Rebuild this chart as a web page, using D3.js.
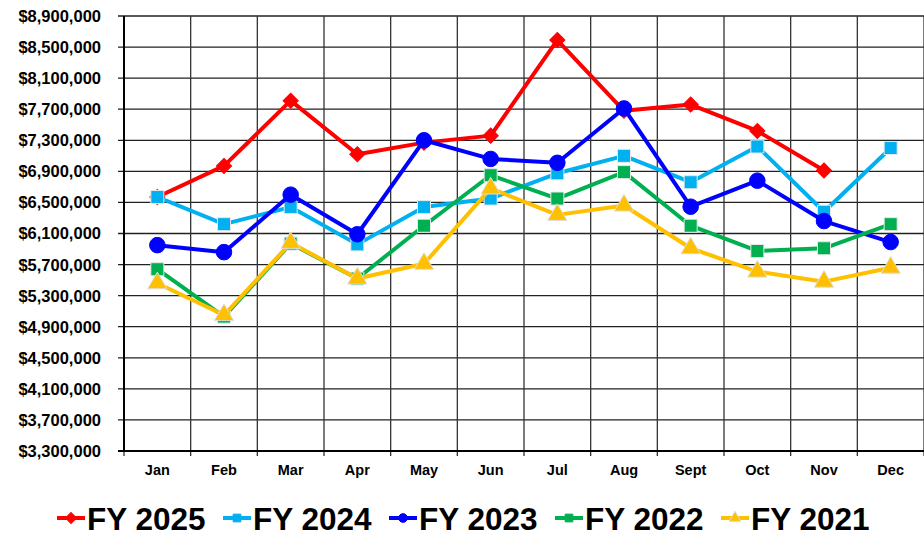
<!DOCTYPE html>
<html>
<head>
<meta charset="utf-8">
<script src="https://cdn.jsdelivr.net/npm/d3@7"></script>
<style>
  body { margin: 0; background: #fff; }
  svg { display: block; font-family: Arial, "Liberation Sans", sans-serif; }
</style>
</head>
<body>
<div id="container"></div>
<script>
// Monthly values
const months = ['Jan', 'Feb', 'Mar', 'Apr', 'May', 'Jun', 'Jul', 'Aug', 'Sept', 'Oct', 'Nov', 'Dec'];
const fy2025 = [6570000, 6970000, 7810000, 7120000, 7270000, 7360000, 8590000, 7680000, 7760000, 7420000, 6910000, null];
const fy2024 = [6570000, 6220000, 6440000, 5960000, 6440000, 6550000, 6875000, 7100000, 6760000, 7220000, 6380000, 7200000];
const fy2023 = [5950000, 5860000, 6600000, 6090000, 7300000, 7060000, 7010000, 7710000, 6445000, 6780000, 6260000, 5990000];
const fy2022 = [5640000, 5030000, 5970000, 5520000, 6200000, 6850000, 6550000, 6890000, 6200000, 5875000, 5910000, 6220000];
const fy2021 = [5460000, 5050000, 5980000, 5520000, 5710000, 6680000, 6340000, 6460000, 5910000, 5610000, 5480000, 5660000];
const yTicks = d3.range(3300000, 8900001, 400000);

const seriesNames = ['FY 2025', 'FY 2024', 'FY 2023', 'FY 2022', 'FY 2021'];
const seriesValues = [fy2025, fy2024, fy2023, fy2022, fy2021];
const colors = ['#ff0000', '#00b0f0', '#0000ff', '#00b050', '#ffc000'];
const symbols = [d3.symbolSquare, d3.symbolSquare, d3.symbolCircle, d3.symbolSquare, d3.symbolTriangle];
const symSize = [115, 170, 190, 170, 160];
const symRot = [45, 0, 0, 0, 0];

const width = 924;
const height = 537;
const plot = { left: 124, right: 924, top: 16, bottom: 451 };

const svg = d3.select('#container').append('svg')
    .attr('width', width)
    .attr('height', height);

const x = d3.scaleBand().domain(months).range([plot.left, plot.right]);
const y = d3.scaleLinear().domain([3300000, 8900000]).range([plot.bottom, plot.top]);

// horizontal grid
svg.append('g')
    .selectAll('line')
    .data(yTicks)
    .join('line')
    .attr('x1', plot.left - 6)
    .attr('x2', plot.right)
    .attr('y1', d => y(d))
    .attr('y2', d => y(d))
    .attr('stroke', '#222')
    .attr('stroke-width', 1.3);

// vertical grid (category boundaries)
const bounds = months.map(m => x(m)).concat([plot.right]);
svg.append('g')
    .selectAll('line')
    .data(bounds)
    .join('line')
    .attr('x1', d => d)
    .attr('x2', d => d)
    .attr('y1', plot.top)
    .attr('y2', plot.bottom + 5)
    .attr('stroke', '#333')
    .attr('stroke-width', 1.3);

// axes lines
svg.append('line')
    .attr('x1', plot.left).attr('x2', plot.left)
    .attr('y1', plot.top).attr('y2', plot.bottom)
    .attr('stroke', '#000').attr('stroke-width', 2);
svg.append('line')
    .attr('x1', plot.left - 6).attr('x2', plot.right)
    .attr('y1', plot.bottom).attr('y2', plot.bottom)
    .attr('stroke', '#000').attr('stroke-width', 2);

// y labels
const fmt = d3.format('$,');
svg.append('g')
    .selectAll('text')
    .data(yTicks)
    .join('text')
    .attr('x', 101)
    .attr('y', d => y(d))
    .attr('dy', '0.36em')
    .attr('text-anchor', 'end')
    .attr('font-size', 16.5)
    .attr('font-weight', 'bold')
    .text(d => fmt(d));

// x labels
svg.append('g')
    .selectAll('text')
    .data(months)
    .join('text')
    .attr('x', d => x(d) + x.bandwidth() / 2)
    .attr('y', 475)
    .attr('text-anchor', 'middle')
    .attr('font-size', 14.5)
    .attr('font-weight', 'bold')
    .text(d => d);

// series
const line = d3.line()
    .defined(d => d != null)
    .x((d, i) => x(months[i]) + x.bandwidth() / 2)
    .y(d => y(d));

seriesValues.forEach((vals, s) => {
    const g = svg.append('g');
    g.append('path')
        .datum(vals)
        .attr('d', line)
        .attr('fill', 'none')
        .attr('stroke', colors[s])
        .attr('stroke-width', 4)
        .attr('stroke-linejoin', 'round');
    g.selectAll('path.mark')
        .data(vals.map((v, i) => ({ v, i })).filter(d => d.v != null))
        .join('path')
        .attr('class', 'mark')
        .attr('transform', d => `translate(${x(months[d.i]) + x.bandwidth() / 2},${y(d.v)}) rotate(${symRot[s]})`)
        .attr('d', d3.symbol().type(symbols[s]).size(symSize[s]))
        .attr('fill', colors[s])
        .attr('stroke', s === 4 ? '#ddd' : (s === 3 || s === 1 ? '#e8e8e8' : colors[s]))
        .attr('stroke-width', 1);
});

// legend
const legendX = [57, 223, 389, 555, 721];
const legend = svg.append('g');
seriesNames.forEach((name, s) => {
    const lg = legend.append('g').attr('transform', `translate(${legendX[s]},518)`);
    lg.append('line')
        .attr('x1', 0).attr('x2', 28)
        .attr('stroke', colors[s])
        .attr('stroke-width', 4);
    lg.append('path')
        .attr('transform', `translate(14,0) rotate(${symRot[s]})`)
        .attr('d', d3.symbol().type(symbols[s]).size(60))
        .attr('fill', colors[s])
        .attr('stroke', s === 4 ? '#ddd' : colors[s]);
    lg.append('text')
        .attr('x', 30)
        .attr('y', 12)
        .attr('font-size', 31.5)
        .attr('font-weight', 'bold')
        .text(name);
});
</script>
</body>
</html>
